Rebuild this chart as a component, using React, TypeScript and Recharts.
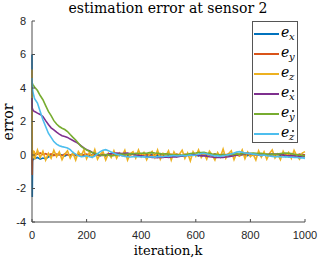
import { LineChart, Line, XAxis, YAxis } from "recharts";

// iteration index of each sample
const iterations = [
  0, 1, 2, 3, 5, 8,
  10, 20, 30, 40, 50, 60, 70, 80, 90, 100,
  110, 120, 130, 140, 150, 160, 170, 180, 190, 200,
  210, 220, 230, 240, 250, 260, 270, 280, 290, 300,
  310, 320, 330, 340, 350, 360, 370, 380, 390, 400,
  410, 420, 430, 440, 450, 460, 470, 480, 490, 500,
  510, 520, 530, 540, 550, 560, 570, 580, 590, 600,
  610, 620, 630, 640, 650, 660, 670, 680, 690, 700,
  710, 720, 730, 740, 750, 760, 770, 780, 790, 800,
  810, 820, 830, 840, 850, 860, 870, 880, 890, 900,
  910, 920, 930, 940, 950, 960, 970, 980, 990, 1000,
];

const ex = [
  6.0, -2.5, -0.4, -0.3, -0.25, -0.2,
  -0.22, -0.15, -0.25, -0.18, -0.22, -0.12, -0.05, 0.02, -0.03, 0.04,
  0.0, -0.06, 0.03, -0.02, 0.05, -0.04, 0.02, 0.06, -0.03, 0.01,
  -0.05, 0.03, 0.0, 0.07, -0.02, 0.04, -0.06, 0.02, 0.05, -0.03,
  0.02, -0.04, 0.05, 0.0, -0.05, 0.03, 0.06, -0.02, 0.01, -0.06,
  0.04, 0.0, -0.03, 0.05, 0.02, -0.05, 0.03, -0.01, 0.06, -0.02,
  0.0, 0.05, -0.04, 0.02, -0.06, 0.03, 0.01, -0.03, 0.05, 0.0,
  -0.05, 0.03, 0.06, -0.02, 0.02, -0.04, 0.05, 0.0, -0.03, 0.04,
  0.01, -0.05, 0.04, 0.02, 0.07, -0.02, 0.03, 0.0, -0.04, 0.05,
  -0.02, 0.04, 0.0, -0.05, 0.03, 0.01, -0.03, 0.06, -0.01, 0.02,
  -0.04, 0.03, 0.0, 0.05, -0.03, 0.02, -0.05, 0.01, 0.04, -0.02,
];

const ey = [
  0.3, -1.2, 0.15, 0.1, 0.12, 0.08,
  0.1, 0.05, 0.12, 0.02, 0.08, 0.0, 0.06, -0.03, 0.05, 0.02,
  -0.04, 0.06, 0.01, -0.02, 0.07, 0.0, 0.04, -0.05, 0.03, 0.05,
  0.0, -0.04, 0.06, 0.02, -0.03, 0.05, 0.0, 0.04, -0.02, 0.03,
  0.06, -0.01, 0.02, -0.05, 0.04, 0.0, 0.05, -0.03, 0.02, 0.04,
  -0.02, 0.05, 0.01, -0.04, 0.03, 0.06, -0.01, 0.02, -0.05, 0.03,
  0.04, -0.02, 0.05, 0.0, -0.03, 0.04, 0.02, -0.04, 0.06, 0.01,
  -0.02, 0.04, 0.0, 0.05, -0.03, 0.02, 0.06, -0.01, 0.03, -0.04,
  0.02, 0.05, -0.02, 0.03, 0.0, -0.05, 0.04, 0.01, 0.06, -0.02,
  0.03, 0.0, 0.05, -0.03, 0.02, 0.04, -0.01, 0.03, -0.04, 0.02,
  0.05, -0.02, 0.01, 0.04, -0.03, 0.02, 0.0, 0.05, -0.02, 0.01,
];

const ez = [
  5.1, 0.2, -0.2, 0.3, -0.1, 0.25,
  -0.25, 0.3, -0.15, 0.22, -0.3, 0.1, -0.2, 0.28, -0.1, 0.18,
  -0.28, 0.05, 0.25, -0.18, 0.12, -0.3, 0.2, -0.05, 0.3, -0.22,
  0.15, -0.12, 0.32, -0.25, 0.05, 0.2, -0.3, 0.1, -0.15, 0.25,
  -0.2, 0.12, -0.05, 0.28, -0.3, 0.08, 0.2, -0.18, 0.3, -0.1,
  0.15, -0.28, 0.05, 0.22, -0.15, 0.3, -0.25, 0.1, -0.05, 0.25,
  -0.3, 0.18, -0.1, 0.05, 0.28, -0.2, 0.12, -0.35, 0.2, -0.08,
  0.3, -0.15, 0.1, -0.25, 0.22, 0.0, -0.3, 0.15, -0.12, 0.35,
  -0.2, 0.08, 0.25, -0.28, 0.12, -0.05, 0.3, -0.22, 0.18, -0.1,
  0.05, -0.3, 0.25, -0.12, 0.2, -0.25, 0.1, 0.3, -0.18, 0.05,
  -0.28, 0.22, -0.1, 0.15, -0.2, 0.28, -0.05, -0.25, 0.12, 0.2,
];

const exDot = [
  3.4, 2.7, 2.75, 2.7, 2.65, 2.6,
  2.6, 2.5, 2.42, 2.3, 2.05, 1.82, 1.62, 1.5, 1.36, 1.25,
  1.15, 1.1, 1.05, 0.95, 0.87, 0.78, 0.68, 0.55, 0.42, 0.32,
  0.25, 0.16, 0.08, 0.02, -0.04, -0.02, 0.02, 0.06, 0.08, 0.1,
  0.12, 0.1, 0.08, 0.1, 0.12, 0.08, 0.04, 0.0, -0.03, -0.05,
  -0.08, -0.1, -0.12, -0.15, -0.14, -0.16, -0.13, -0.15, -0.12, -0.14,
  -0.12, -0.1, -0.11, -0.08, -0.06, -0.05, -0.02, 0.0, 0.02, 0.0,
  -0.02, -0.05, -0.04, -0.07, -0.1, -0.12, -0.14, -0.15, -0.13, -0.15,
  -0.12, -0.1, -0.07, -0.04, 0.0, 0.03, 0.05, 0.08, 0.1, 0.08,
  0.06, 0.04, 0.0, -0.02, 0.0, 0.02, 0.05, 0.04, 0.06, 0.05,
  0.02, 0.0, -0.03, -0.05, -0.04, -0.06, -0.08, -0.1, -0.08, -0.1,
];

const eyDot = [
  4.3, 4.3, 4.25, 4.2, 4.15, 4.1,
  4.05, 3.85, 3.55, 3.3, 2.95, 2.6, 2.35, 2.05, 1.85, 1.7,
  1.6, 1.52, 1.4, 1.22, 1.05, 0.9, 0.7, 0.52, 0.4, 0.3,
  0.22, 0.15, 0.1, 0.05, 0.0, -0.02, 0.03, 0.0, -0.05, -0.03,
  0.0, 0.04, 0.06, 0.03, 0.05, 0.08, 0.06, 0.1, 0.08, 0.1,
  0.12, 0.1, 0.14, 0.15, 0.12, 0.1, 0.08, 0.05, 0.07, 0.05,
  0.02, 0.0, 0.03, 0.0, -0.02, 0.02, 0.05, 0.08, 0.1, 0.12,
  0.15, 0.14, 0.16, 0.12, 0.1, 0.06, 0.04, 0.02, 0.0, 0.02,
  0.0, 0.03, 0.05, 0.04, 0.06, 0.05, 0.08, 0.1, 0.09, 0.1,
  0.12, 0.1, 0.08, 0.1, 0.06, 0.05, 0.03, 0.05, 0.04, 0.06,
  0.08, 0.1, 0.12, 0.1, 0.08, 0.05, 0.02, 0.0, -0.03, -0.05,
];

const ezDot = [
  4.6, 4.2, 3.95, 3.8, 3.65, 3.45,
  3.35, 3.1, 2.6, 2.1, 1.7, 1.3, 1.05, 0.8, 0.65, 0.55,
  0.5, 0.46, 0.42, 0.32, 0.15, 0.05, -0.05, -0.1, -0.08, -0.05,
  -0.1, -0.14, -0.06, 0.08, 0.2, 0.28, 0.32, 0.26, 0.18, 0.1,
  0.05, 0.0, -0.04, -0.08, -0.1, -0.12, -0.1, -0.08, -0.1, -0.12,
  -0.1, -0.14, -0.12, -0.1, -0.13, -0.1, -0.08, -0.1, -0.06, -0.08,
  -0.05, -0.03, -0.06, -0.04, -0.02, -0.05, -0.03, 0.0, -0.02, 0.0,
  0.04, 0.08, 0.1, 0.06, 0.02, -0.02, -0.06, -0.04, -0.08, -0.05,
  -0.02, 0.02, 0.06, 0.12, 0.18, 0.2, 0.16, 0.12, 0.1, 0.08,
  0.05, 0.04, 0.0, -0.02, 0.0, -0.04, -0.06, -0.08, -0.1, -0.08,
  -0.1, -0.12, -0.1, -0.13, -0.12, -0.15, -0.14, -0.18, -0.16, -0.2,
];

const xTicks = [0, 200, 400, 600, 800, 1000];
const yTicks = [-4, -2, 0, 2, 4, 6, 8];

const series = [
  { key: "ex", sub: "x", dotted: false, color: "#0072BD", values: ex },
  { key: "ey", sub: "y", dotted: false, color: "#D95319", values: ey },
  { key: "ez", sub: "z", dotted: false, color: "#EDB120", values: ez },
  { key: "exDot", sub: "x", dotted: true, color: "#7E2F8E", values: exDot },
  { key: "eyDot", sub: "y", dotted: true, color: "#77AC30", values: eyDot },
  { key: "ezDot", sub: "z", dotted: true, color: "#4DBEEE", values: ezDot },
];

const data = iterations.map((k, i) => {
  const row: Record<string, number> = { k };
  for (const s of series) row[s.key] = s.values[i];
  return row;
});

const axisColor = "#4d4d4d";
const tickFont = { fontSize: 11, fill: "#262626", fontFamily: "Liberation Sans, Arial, sans-serif" };
const serif = "DejaVu Serif, Liberation Serif, serif";

function LegendBox() {
  return (
    <div
      style={{
        position: "absolute",
        left: 252,
        top: 21,
        width: 46,
        height: 122,
        background: "#fff",
        border: "1px solid #555",
        boxSizing: "border-box",
      }}
    >
      <svg width={44} height={120} style={{ display: "block" }}>
        {series.map((s, i) => {
          const y = 12 + i * 20;
          return (
            <g key={s.key}>
              <line x1={1} x2={26} y1={y} y2={y} stroke={s.color} strokeWidth={2} />
              <text x={28} y={y + 3} fontFamily={serif} fontStyle="italic" fontSize={14} fill="#000">
                e
              </text>
              <text x={36} y={y + 6} fontFamily={serif} fontStyle="italic" fontSize={10} fill="#000">
                {s.sub}
              </text>
              {s.dotted && <circle cx={40} cy={y - 3} r={0.9} fill="#000" />}
            </g>
          );
        })}
      </svg>
    </div>
  );
}

export default function App() {
  return (
    <div style={{ position: "fixed", left: 0, top: 0, width: 318, height: 260, background: "#fff" }}>
      <LineChart
        width={318}
        height={260}
        data={data}
        margin={{ top: 21, right: 13, bottom: 0, left: 0 }}
      >
        <XAxis
          dataKey="k"
          type="number"
          domain={[0, 1000]}
          ticks={xTicks}
          height={38}
          tickSize={-3}
          tickMargin={12}
          stroke={axisColor}
          tick={tickFont}
          interval={0}
        />
        <XAxis
          xAxisId="top"
          orientation="top"
          dataKey="k"
          type="number"
          domain={[0, 1000]}
          ticks={xTicks}
          height={0}
          tickSize={-3}
          tickFormatter={() => ""}
          stroke={axisColor}
          interval={0}
        />
        <YAxis
          type="number"
          domain={[-4, 8]}
          ticks={yTicks}
          width={32}
          tickSize={-3}
          tickMargin={9}
          stroke={axisColor}
          tick={tickFont}
          interval={0}
        />
        <YAxis
          yAxisId="right"
          orientation="right"
          type="number"
          domain={[-4, 8]}
          ticks={yTicks}
          width={0}
          tickSize={-3}
          tickFormatter={() => ""}
          stroke={axisColor}
          interval={0}
        />
        {/* invisible copy so the mirrored box axes are drawn */}
        <Line
          xAxisId="top"
          yAxisId="right"
          dataKey="ex"
          stroke="none"
          dot={false}
          isAnimationActive={false}
        />
        {series.map((s) => (
          <Line
            key={s.key}
            dataKey={s.key}
            stroke={s.color}
            strokeWidth={1.6}
            dot={false}
            type="linear"
            isAnimationActive={false}
          />
        ))}
      </LineChart>
      <LegendBox />
      <svg
        width={318}
        height={260}
        style={{ position: "absolute", left: 0, top: 0, pointerEvents: "none" }}
      >
        <text x={168} y={13} textAnchor="middle" fontFamily={serif} fontSize={14} fill="#000">
          estimation error at sensor 2
        </text>
        <text x={168} y={255} textAnchor="middle" fontFamily={serif} fontSize={13} fill="#000">
          iteration,k
        </text>
        <text
          transform="translate(13,122) rotate(-90)"
          textAnchor="middle"
          fontFamily={serif}
          fontSize={14}
          fill="#000"
        >
          error
        </text>
      </svg>
    </div>
  );
}
